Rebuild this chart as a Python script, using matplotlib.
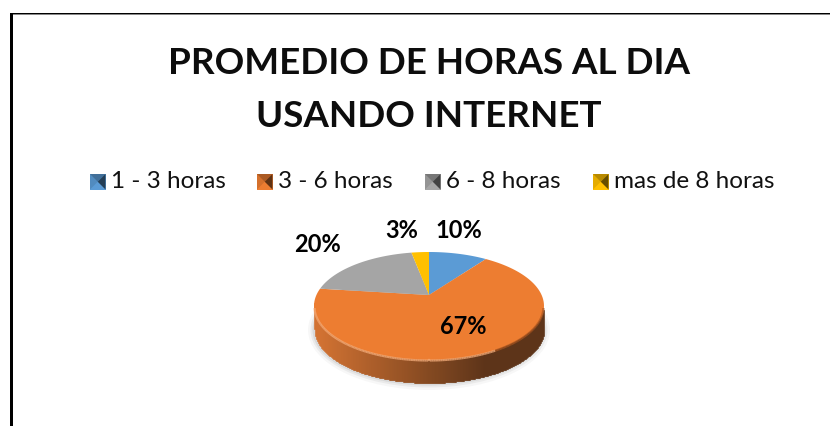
import numpy as np
import matplotlib
matplotlib.use('Agg')
import matplotlib.pyplot as plt
from matplotlib.patches import Ellipse, Rectangle, Polygon

plt.rcParams['font.family'] = ['Lato', 'DejaVu Sans']

title_lines = ['PROMEDIO DE HORAS AL DIA', 'USANDO INTERNET']
categories = ['1 - 3 horas', '3 - 6 horas', '6 - 8 horas', 'mas de 8 horas']
values = [10, 67, 20, 3]
pct_labels = ['10%', '67%', '20%', '3%']
colors = ['#5B9BD5', '#ED7D31', '#A5A5A5', '#FFC000']

W, H = 830, 426
fig = plt.figure(figsize=(W / 100, H / 100), dpi=100)
ax = fig.add_axes([0, 0, 1, 1])
ax.set_xlim(0, W)
ax.set_ylim(H, 0)
ax.axis('off')

# chart border
ax.add_patch(Rectangle((10, 13), 2.7, H - 13, color='black', lw=0))
ax.add_patch(Rectangle((10, 13), W - 10, 1.4, color='black', lw=0))
ax.add_patch(Rectangle((12.7, 14.4), W - 12, 0.6, color='#888888', lw=0))

for y, line in zip([63.5, 116.5], title_lines):
    ax.text(429, y, line, ha='center', va='center', fontsize=26.5, fontweight='bold', color='#0d0d0d')

# legend
leg_x = [90, 257, 425, 593]
for x, c, name in zip(leg_x, colors, categories):
    s = 15.5
    mx, my = x + s / 2, 174 + s / 2
    x1, y0, y1 = x + s, 174, 174 + s
    ax.add_patch(Rectangle((x, y0), s, s, color=c, lw=0))
    ax.add_patch(Polygon([[x, y0], [x1, y0], [mx, my]], color='black', alpha=0.28, lw=0))
    ax.add_patch(Polygon([[x1, y0], [x1, y1], [mx, my]], color='black', alpha=0.6, lw=0))
    ax.add_patch(Polygon([[x, y0], [x, y1], [mx, my]], color='black', alpha=0.1, lw=0))
    ax.text(x + 20.5, 181, name, ha='left', va='center', fontsize=17.5, color='#111111')

# pie geometry, the tilt moves the apex above the centre of the top ellipse
cx, cy = 429, 306
rx, ry = 115, 54
apex_y = 295
depth = 23
tilt = 0.2037


def project(theta):
    # theta clockwise from 12 o'clock, unit circle to screen
    px = np.sin(theta)
    py = np.cos(theta)
    den = tilt * py + 1
    sx = cx + rx * np.sqrt(1 - tilt ** 2) * px / den
    sy = (8.33 * py + apex_y) / den
    return sx, sy


# soft shadow
for g, a in zip([12, 7, 3], [0.03, 0.05, 0.07]):
    ax.add_patch(Ellipse((cx, cy + depth + 1), 2 * rx + g, 2 * ry + g, color='black', alpha=a, lw=0))

# side wall, shaded left to right
xs = np.linspace(cx - rx, cx + rx, 231)
base = np.array([0xD2, 0x6E, 0x2B]) / 255
dark = np.array([0x58, 0x2D, 0x10]) / 255
for i in range(len(xs) - 1):
    f = np.clip(((xs[i] - xs[0]) / (2 * rx) - 0.02) / 0.72, 0, 1)
    c = base * (1 - f) + dark * f
    y0 = cy + ry * np.sqrt(max(0, 1 - ((xs[i] - cx) / rx) ** 2))
    ax.fill_between(xs[i:i + 2], y0 - 3, y0 + depth, color=c, lw=0.4)

# top slices
start = 0
total = sum(values)
for v, c in zip(values, colors):
    end = start + v / total * 2 * np.pi
    th = np.linspace(start, end, 120)
    sx, sy = project(th)
    pts = np.column_stack([np.r_[cx, sx], np.r_[apex_y, sy]])
    ax.add_patch(Polygon(pts, color=c, lw=0))
    start = end

# bevel highlight along the front edge, dark on the far right
th = np.linspace(0.02, np.pi - 0.02, 200)
hx = cx + (rx - 0.5) * np.cos(th)
hy = cy + (ry - 0.5) * np.sin(th)
for i in range(len(th) - 1):
    f = i / (len(th) - 1)
    col = '#F5AE7C' if f > 0.3 else '#A8541F'
    ax.plot(hx[i:i + 2], hy[i:i + 2] + 1, color=col, lw=1.6, alpha=0.75, solid_capstyle='butt')

label_pos = [(459, 230), (463, 326), (317, 244), (402, 230)]
for (x, y), s in zip(label_pos, pct_labels):
    ax.text(x, y, s, ha='center', va='center', fontsize=17, fontweight='bold', color='black')

fig.savefig('out.png', dpi=100)
